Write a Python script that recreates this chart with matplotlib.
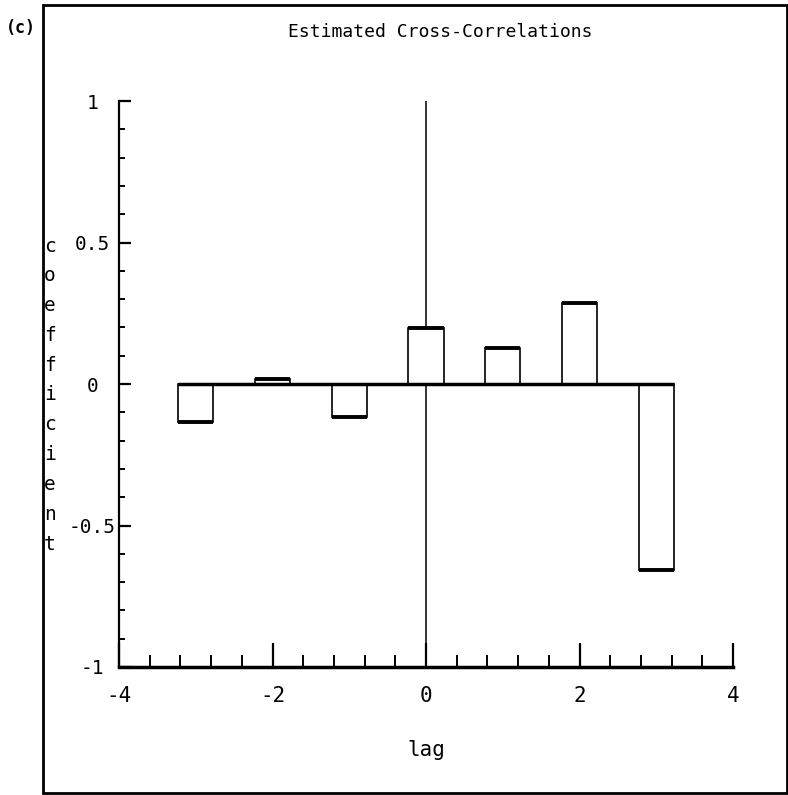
import numpy as np
import matplotlib
matplotlib.use("Agg")
import matplotlib.pyplot as plt
from matplotlib.patches import Rectangle
from matplotlib.ticker import MultipleLocator

plt.rcParams['font.family'] = ['DejaVu Sans Mono']

lags = np.array([-3, -2, -1, 0, 1, 2, 3])
coef = np.array([-0.134, 0.016, -0.117, 0.198, 0.127, 0.286, -0.657])
xticks = [-4, -2, 0, 2, 4]
xticklabels = ["-4", "-2", "0", "2", "4"]
yticks = [-1, -0.5, 0, 0.5, 1]
yticklabels = ["-1", "-0.5", "0", "0.5", "1"]

width = 0.46

fig = plt.figure(figsize=(7.88, 7.95), dpi=100)
ax = fig.add_axes([119 / 788, 128 / 795, 614 / 788, 566 / 795])

# bars: open boxes with heavier ends
ax.bar(lags, coef, width=width, facecolor="white", edgecolor="black", linewidth=1.2, zorder=2)
ax.hlines(coef, lags - width / 2, lags + width / 2, colors="black", linewidth=2.8, zorder=3)
ax.hlines(0, lags.min() - width / 2, lags.max() + width / 2, colors="black", linewidth=2.5, zorder=4)
ax.axvline(0, color="black", linewidth=1.1, zorder=1)

ax.set_xlim(-4, 4)
ax.set_ylim(-1, 1)
ax.set_xticks(xticks)
ax.set_xticklabels(xticklabels)
ax.set_yticks(yticks)
ax.set_yticklabels(yticklabels)
ax.xaxis.set_minor_locator(MultipleLocator(0.4))
ax.yaxis.set_minor_locator(MultipleLocator(0.1))

ax.tick_params(axis="x", which="major", direction="in", length=17, width=1.6, pad=14, labelsize=15)
ax.tick_params(axis="x", which="minor", direction="in", length=8.5, width=1.4)
ax.tick_params(axis="y", which="major", direction="in", length=8.5, width=1.6, pad=19, labelsize=14)
ax.tick_params(axis="y", which="minor", direction="in", length=4.3, width=1.4)
for lab in ax.get_yticklabels():
    lab.set_horizontalalignment("center")

for s in ["top", "right"]:
    ax.spines[s].set_visible(False)
ax.spines["bottom"].set_linewidth(2.5)
ax.spines["left"].set_linewidth(1.6)

ax.set_xlabel("lag", fontsize=15, labelpad=24)

# stacked vertical y label
fig.text(50 / 788, 1 - 395 / 795, "\n".join("coefficient"), ha="center", va="center",
         fontsize=14, linespacing=1.72)

fig.text(440 / 788, 1 - 32 / 795, "Estimated Cross-Correlations", ha="center", va="center", fontsize=13)
fig.text(21 / 788, 1 - 28 / 795, "(c)", ha="center", va="center", fontsize=12, fontweight="bold")

# outer frame
fig.patches.append(Rectangle((43 / 788, 2 / 795), 744 / 788, 788 / 795, transform=fig.transFigure,
                             fill=False, edgecolor="black", linewidth=2))

fig.savefig("out.png", dpi=100)
